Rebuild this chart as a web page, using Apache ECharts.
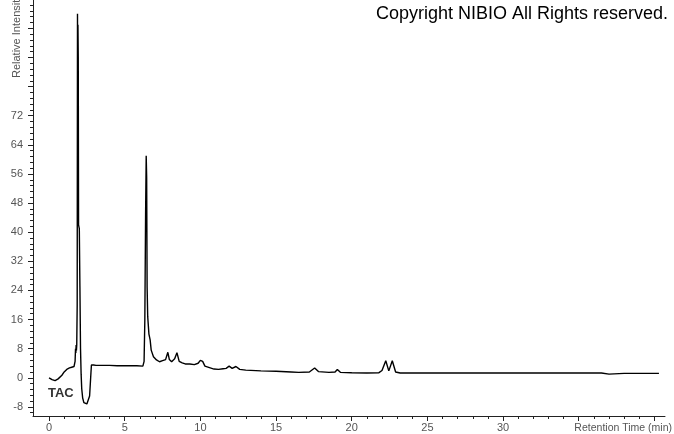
<!DOCTYPE html>
<html>
<head>
<meta charset="utf-8">
<script src="https://cdn.jsdelivr.net/npm/echarts@6/dist/echarts.min.js"></script>
<style>html,body{margin:0;padding:0;background:#fff}#c{width:674px;height:434px}</style>
</head>
<body>
<div id="c"></div>
<script>
// Retention time (min)
const times = [0, 0.2, 0.4, 0.6, 0.85, 1.0, 1.17, 1.35, 1.5, 1.65, 1.72, 1.75, 1.77, 1.79, 1.81, 1.83, 1.86, 1.88, 1.885, 1.91, 1.93, 1.95, 2.0, 2.04, 2.08, 2.12, 2.16, 2.22, 2.3, 2.4, 2.5, 2.6, 2.68, 2.75, 2.8, 2.86, 2.95, 3.1, 3.5, 4.0, 4.5, 5.0, 5.3, 5.36, 5.42, 5.8, 6.2, 6.28, 6.33, 6.38, 6.42, 6.45, 6.48, 6.52, 6.6, 6.68, 6.75, 6.9, 7.1, 7.3, 7.5, 7.7, 7.85, 7.95, 8.1, 8.3, 8.45, 8.6, 8.8, 9.0, 9.3, 9.6, 9.85, 10.0, 10.15, 10.3, 10.6, 10.9, 11.2, 11.5, 11.7, 11.9, 12.1, 12.35, 12.6, 13.0, 14.0, 15.0, 16.0, 16.5, 17.2, 17.55, 17.8, 18.5, 18.9, 19.05, 19.25, 20.0, 21.0, 21.8, 22.0, 22.25, 22.45, 22.68, 22.9, 23.2, 25.0, 27.0, 30.0, 33.0, 36.5, 37.0, 38.0, 40.3];
// Relative intensity
const intensity = [0, -0.5, -0.8, -0.3, 0.7, 1.6, 2.3, 2.7, 2.9, 3.1, 4.5, 8.0, 6.8, 9.0, 7.5, 9.0, 20, 100, 90, 97, 88, 42, 41, 25, 8, 1, -3, -5.5, -6.8, -7.1, -7.2, -7.0, -5, 0, 3.5, 3.8, 3.5, 3.4, 3.4, 3.4, 3.3, 3.3, 3.3, 3.5, 3.3, 3.3, 3.2, 4.5, 16, 45, 61, 55, 25, 16.8, 12, 10.4, 7.6, 5.8, 4.9, 4.4, 4.7, 5.0, 7.0, 5.0, 4.4, 5.2, 6.9, 4.5, 4.1, 3.8, 3.8, 3.6, 4.0, 4.8, 4.5, 3.2, 2.8, 2.4, 2.3, 2.5, 2.6, 3.2, 2.6, 3.1, 2.3, 2.1, 1.9, 1.8, 1.6, 1.5, 1.6, 2.7, 1.7, 1.5, 1.6, 2.3, 1.5, 1.4, 1.3, 1.4, 2.0, 4.7, 1.9, 4.7, 1.6, 1.3, 1.3, 1.3, 1.3, 1.3, 1.3, 1.0, 1.2, 1.2];
// Tick labels
const xLabels = [0, 5, 10, 15, 20, 25, 30];
const yLabels = [-8, 0, 8, 16, 24, 32, 40, 48, 56, 64, 72];

const xMinor = []; for (let i = 0; i <= 40; i++) xMinor.push(i);
const xMajor = [0, 5, 10, 15, 20, 25, 30, 35, 40];
const yMajor = []; for (let v = -8; v <= 96; v += 8) yMajor.push(v);
const yMinor = []; for (let v = -9.6; v <= 103; v += 1.6) yMinor.push(Math.round(v * 10) / 10);

const FONT = '"Liberation Sans", Arial, sans-serif';
const chart = echarts.init(document.getElementById('c'), null, {renderer: 'canvas'});
const XMIN = -1.06, XMAX = 40.7, YMIN = -10.5, YMAX = 103.8;
chart.setOption({
  animation: false,
  backgroundColor: '#fff',
  grid: {left: 33, right: 9, top: 0, bottom: 18},
  xAxis: [{
    type: 'value', min: XMIN, max: XMAX,
    axisLine: {show: true, onZero: false, lineStyle: {color: '#222', width: 1}},
    axisTick: {show: true, inside: false, length: 5, customValues: xMajor, lineStyle: {color: '#222'}},
    axisLabel: {customValues: xLabels, margin: 6, color: '#555', fontSize: 11, fontFamily: FONT},
    splitLine: {show: false}
  }, {
    type: 'value', min: XMIN, max: XMAX, position: 'bottom',
    axisLine: {show: false, onZero: false},
    axisTick: {show: true, length: 3, customValues: xMinor, lineStyle: {color: '#222'}},
    axisLabel: {show: false},
    splitLine: {show: false}
  }],
  yAxis: [{
    type: 'value', min: YMIN, max: YMAX,
    axisLine: {show: true, onZero: false, lineStyle: {color: '#222', width: 1}},
    axisTick: {show: true, length: 5, customValues: yMajor, lineStyle: {color: '#222'}},
    axisLabel: {customValues: yLabels, margin: 10, color: '#555', fontSize: 11, fontFamily: FONT},
    splitLine: {show: false}
  }, {
    type: 'value', min: YMIN, max: YMAX, position: 'left',
    axisLine: {show: false, onZero: false},
    axisTick: {show: true, length: 3, customValues: yMinor, lineStyle: {color: '#222'}},
    axisLabel: {show: false},
    splitLine: {show: false}
  }],
  series: [{
    type: 'line',
    xAxisIndex: 0, yAxisIndex: 0,
    data: times.map((t, i) => [t, intensity[i]]),
    showSymbol: false, symbol: 'none',
    lineStyle: {color: '#000', width: 1.4},
    clip: true
  }],
  graphic: [
    {type: 'text', x: 668, y: 14, style: {text: 'Copyright NIBIO All Rights reserved.', font: '18px ' + FONT, fill: '#000', textAlign: 'right', textVerticalAlign: 'middle'}},
    {type: 'text', x: 48, y: 393, style: {text: 'TAC', font: 'bold 13px ' + FONT, fill: '#333', textVerticalAlign: 'middle'}},
    {type: 'text', x: 672, y: 428, style: {text: 'Retention Time (min)', font: '10.5px ' + FONT, fill: '#555', textAlign: 'right', textVerticalAlign: 'middle'}},
    {type: 'text', x: 17, y: 78, rotation: Math.PI / 2, style: {text: 'Relative Intensity', font: '11px ' + FONT, fill: '#555', textAlign: 'left', textVerticalAlign: 'middle'}}
  ]
});
</script>
</body>
</html>
